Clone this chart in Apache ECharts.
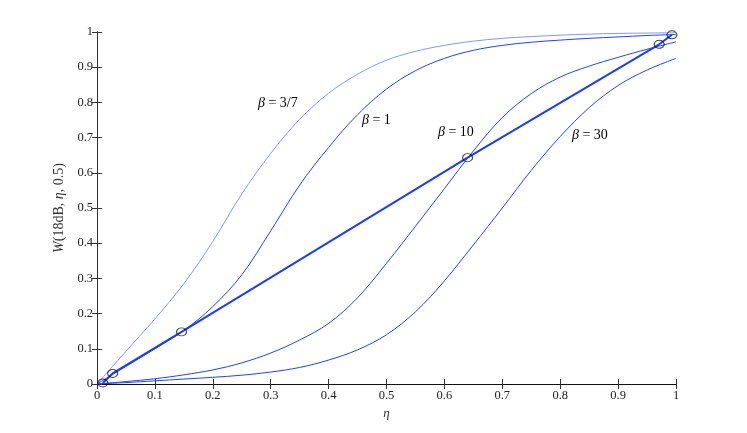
<!DOCTYPE html>
<html>
<head>
<meta charset="utf-8">
<script src="https://cdn.jsdelivr.net/npm/echarts@6.0.0/dist/echarts.min.js"></script>
<style>
  html, body { margin: 0; padding: 0; background: #fff; }
  #chart { width: 747px; height: 433px; }
</style>
</head>
<body>
<div id="chart"></div>
<script>
// ---- data ----
const etaGrid = [0, 0.05, 0.1, 0.15, 0.2, 0.25, 0.3, 0.35, 0.4, 0.45, 0.5,
                 0.55, 0.6, 0.65, 0.7, 0.75, 0.8, 0.85, 0.9, 0.95, 1];

const wBeta37 = [0, 0.093, 0.185, 0.285, 0.405, 0.54, 0.655, 0.752, 0.826, 0.88, 0.92,
                 0.945, 0.962, 0.974, 0.982, 0.987, 0.991, 0.994, 0.996, 0.997, 0.998];
const wBeta1 = [0, 0.05, 0.1, 0.152, 0.22, 0.31, 0.435, 0.565, 0.672, 0.765, 0.838,
                0.89, 0.925, 0.948, 0.962, 0.971, 0.977, 0.982, 0.986, 0.99, 0.993];
const wBeta10 = [0, 0.007, 0.015, 0.026, 0.04, 0.06, 0.088, 0.125, 0.172, 0.245, 0.343,
                 0.448, 0.555, 0.662, 0.757, 0.825, 0.872, 0.903, 0.928, 0.951, 0.972];
const wBeta30 = [0, 0.004, 0.009, 0.014, 0.019, 0.025, 0.034, 0.047, 0.068, 0.097, 0.14,
                 0.205, 0.293, 0.395, 0.5, 0.607, 0.703, 0.785, 0.848, 0.892, 0.925];

// optimum points (circles) joined by the thick line
const optEta = [0.01, 0.027, 0.146, 0.64, 0.971, 0.993];
const optW = [0.003, 0.03, 0.148, 0.643, 0.965, 0.992];

const tickStep = 0.1;
const curveLabels = ['3/7', '1', '10', '30'];

const pairs = (xs, ys) => xs.map((x, i) => [x, ys[i]]);

const serif = 'Liberation Serif';
const axisColor = '#333';

const chart = echarts.init(document.getElementById('chart'), null, { renderer: 'canvas' });

function curve(data, color, width) {
    return {
        type: 'line',
        data: data,
        smooth: 0.35,
        showSymbol: false,
        lineStyle: { color: color, width: width },
        silent: true,
        z: 2
    };
}

const betaRich = {
    b: { fontFamily: serif, fontStyle: 'italic', fontSize: 14, color: '#333' },
    t: { fontFamily: serif, fontSize: 14, color: '#333' }
};
const labelPos = [[258, 104], [362, 121], [438, 133], [572, 136]];

chart.setOption({
    animation: false,
    backgroundColor: '#fff',
    grid: { left: 97, right: 71, top: 32, bottom: 49 },
    xAxis: [{
        type: 'value', min: 0, max: 1, interval: tickStep,
        name: 'η', nameLocation: 'middle', nameGap: 20,
        nameTextStyle: { fontFamily: serif, fontStyle: 'italic', fontSize: 13, color: '#333' },
        axisLine: { show: true, lineStyle: { color: axisColor, width: 1 } },
        axisTick: { show: true, inside: true, length: 5, lineStyle: { color: axisColor } },
        axisLabel: { fontFamily: serif, fontSize: 12.5, color: '#222', margin: 5,
                     formatter: v => String(+v.toFixed(1)) },
        splitLine: { show: false }
    }, {
        type: 'value', min: 0, max: 1, interval: tickStep, position: 'top',
        axisLine: { show: true, lineStyle: { color: '#111', width: 1 } },
        axisTick: { show: true, inside: true, length: 5, lineStyle: { color: axisColor } },
        axisLabel: { show: false },
        splitLine: { show: false }
    }],
    yAxis: [{
        type: 'value', min: 0, max: 1, interval: tickStep,
        name: '{i|W}{t|(18dB, }{i|η}{t|, 0.5)}', nameLocation: 'middle', nameGap: 28,
        nameTextStyle: {
            rich: {
                i: { fontFamily: serif, fontStyle: 'italic', fontSize: 14, color: '#333' },
                t: { fontFamily: serif, fontSize: 14, color: '#333' }
            }
        },
        axisLine: { show: true, lineStyle: { color: axisColor, width: 1 } },
        axisTick: { show: true, inside: true, length: 5, lineStyle: { color: axisColor } },
        axisLabel: { fontFamily: serif, fontSize: 12.5, color: '#222', margin: 4,
                     formatter: v => String(+v.toFixed(1)) },
        splitLine: { show: false }
    }, {
        type: 'value', min: 0, max: 1, interval: tickStep, position: 'right',
        axisLine: { show: true, lineStyle: { color: axisColor, width: 1 } },
        axisTick: { show: true, inside: true, length: 5, lineStyle: { color: axisColor } },
        axisLabel: { show: false },
        splitLine: { show: false }
    }],
    series: [
        curve(pairs(etaGrid, wBeta37), '#6478ff', 0.8),
        curve(pairs(etaGrid, wBeta1), '#2040ff', 1),
        curve(pairs(etaGrid, wBeta10), '#2040ff', 1),
        curve(pairs(etaGrid, wBeta30), '#2040ff', 1),
        {
            type: 'line',
            data: pairs(optEta, optW),
            showSymbol: false,
            lineStyle: { color: '#1a3cff', width: 2 },
            z: 3
        },
        {
            type: 'scatter',
            data: pairs(optEta, optW),
            symbol: 'circle',
            symbolSize: [10, 8],
            itemStyle: { color: 'rgba(0,0,0,0)', borderColor: '#111', borderWidth: 1 },
            z: 4
        }
    ],
    graphic: curveLabels.map((txt, i) => ({
        type: 'text',
        left: labelPos[i][0],
        top: labelPos[i][1] - 8,
        style: { text: '{b|β}{t| = ' + txt + '}', rich: betaRich }
    }))
});
</script>
</body>
</html>
